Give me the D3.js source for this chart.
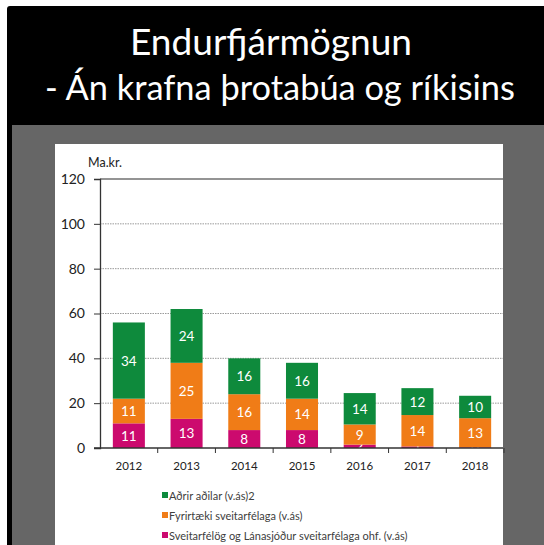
<!DOCTYPE html>
<html>
<head>
<meta charset="utf-8">
<script src="https://cdn.jsdelivr.net/npm/d3@7"></script>
<style>
  html, body { margin: 0; padding: 0; background: #fff; }
  svg { display: block; font-family: Lato, "Open Sans", sans-serif; }
</style>
</head>
<body>
<svg id="chart" width="544" height="545"></svg>
<script>
// gögn lesin af myndinni
const years = ["2012", "2013", "2014", "2015", "2016", "2017", "2018"];
const sveitarfelog = [11, 13, 8, 8, 1.5, 0.7, 0.3];   // neðst (bleikt)
const fyrirtaeki   = [11, 25, 16, 14, 9, 14, 13];     // miðja (appelsínugult)
const adrir        = [34, 24, 16, 16, 14, 12, 10];    // efst (grænt)
const seriesNames = [
  "Sveitarfélög og Lánasjóður sveitarfélaga ohf. (v.ás)",
  "Fyrirtæki sveitarfélaga (v.ás)",
  "Aðrir aðilar (v.ás)2"
];
const seriesColors = ["#cc0a6e", "#f07c17", "#0e8a3c"];
const yTicks = [0, 20, 40, 60, 80, 100, 120];

const svg = d3.select("#chart");
const W = 544, H = 545;

// 1) bakgrunnur: svartur kassi, grár rammi, hvítt spjald
svg.append("rect").attr("x", 7).attr("y", 6).attr("width", W).attr("height", H)
  .attr("rx", 3).attr("fill", "#000");
svg.append("rect").attr("x", 12).attr("y", 125).attr("width", W).attr("height", H)
  .attr("fill", "#666666");
svg.append("rect").attr("x", 55).attr("y", 144).attr("width", 448).attr("height", H)
  .attr("fill", "#fff");

// 2) titill - stærð aðlöguð að breidd
function fitText(txt, cx, y, targetW) {
  const t = svg.append("text")
    .attr("x", cx).attr("y", y)
    .attr("text-anchor", "middle")
    .attr("fill", "#fff")
    .attr("font-size", 40)
    .text(txt);
  const w = t.node().getComputedTextLength();
  t.attr("font-size", 40 * targetW / w);
}
fitText("Endurfjármögnun", 271, 55, 282);
fitText("- Án krafna þrotabúa og ríkisins", 280, 100, 470);

// 3) kvarðar
const x = d3.scaleBand().domain(years).range([100, 504])
  .paddingInner(0.445).paddingOuter(0.2225);
const y = d3.scaleLinear().domain([0, 120]).range([448, 179]);

svg.append("defs").append("clipPath").attr("id", "plotClip")
  .append("rect").attr("x", 100).attr("y", 170).attr("width", 403).attr("height", 278);

// 4) hnitalínur
svg.append("g").selectAll("line")
  .data(yTicks.filter(d => d > 0 && d < 120))
  .join("line")
    .attr("x1", 100).attr("x2", 503)
    .attr("y1", d => y(d)).attr("y2", d => y(d))
    .attr("stroke", "#9a9a9a").attr("stroke-width", 1)
    .attr("stroke-dasharray", "1.5,1");
svg.append("line")
  .attr("x1", 100).attr("x2", 503).attr("y1", y(120)).attr("y2", y(120))
  .attr("stroke", "#707070").attr("stroke-width", 1.5);

// 5) staflaðar súlur
const table = years.map((yr, i) => ({
  year: yr, s0: sveitarfelog[i], s1: fyrirtaeki[i], s2: adrir[i]
}));
const stack = d3.stack().keys(["s0", "s1", "s2"]);
const stacked = stack(table);

const plot = svg.append("g").attr("clip-path", "url(#plotClip)");
const layers = plot.selectAll("g.layer")
  .data(stacked)
  .join("g")
    .attr("class", "layer")
    .attr("fill", (d, i) => seriesColors[i]);

layers.selectAll("rect")
  .data(d => d)
  .join("rect")
    .attr("x", d => x(d.data.year))
    .attr("width", x.bandwidth())
    .attr("y", d => y(d[1]))
    .attr("height", d => y(d[0]) - y(d[1]));

layers.selectAll("text")
  .data(d => d)
  .join("text")
    .attr("x", d => x(d.data.year) + x.bandwidth() / 2)
    .attr("y", d => (y(d[0]) + y(d[1])) / 2)
    .attr("text-anchor", "middle")
    .attr("dominant-baseline", "central")
    .attr("fill", "#fff")
    .attr("font-size", 13.5)
    .text(d => d3.format(".0f")(d[1] - d[0]));

// 6) ásar
const yAxis = svg.append("g").attr("transform", "translate(100,0)")
  .call(d3.axisLeft(y).tickValues(yTicks).tickSize(6).tickPadding(9));
yAxis.select(".domain").attr("stroke", "#333").attr("stroke-width", 1.3);
yAxis.selectAll(".tick line").attr("stroke", "#333");
yAxis.selectAll(".tick text").attr("font-size", 14).attr("fill", "#222")
  .attr("font-family", "Lato, sans-serif");

const xAxis = svg.append("g").attr("transform", "translate(0,448)")
  .call(d3.axisBottom(x).tickSize(0).tickPadding(14));
xAxis.select(".domain").remove();
xAxis.selectAll(".tick text").attr("font-size", 11.5).attr("fill", "#222")
  .attr("font-family", "Lato, sans-serif");
svg.append("line").attr("x1", 94).attr("x2", 503).attr("y1", 448).attr("y2", 448)
  .attr("stroke", "#333").attr("stroke-width", 1.3);
// skil milli flokka
svg.append("g").selectAll("line")
  .data(years.slice(1).concat(["end"]))
  .join("line")
    .attr("x1", (d, i) => 100 + x.step() * (i + 1))
    .attr("x2", (d, i) => 100 + x.step() * (i + 1))
    .attr("y1", 448).attr("y2", 453)
    .attr("stroke", "#333");

svg.append("text").attr("x", 88).attr("y", 167)
  .attr("font-size", 12.5).attr("fill", "#222").text("Ma.kr.");

// 7) skýringar
const legendOrder = [2, 1, 0];
const legend = svg.append("g").selectAll("g")
  .data(legendOrder)
  .join("g")
    .attr("transform", (d, i) => `translate(162,${495 + i * 20})`);
legend.append("rect").attr("x", 0).attr("y", -3).attr("width", 6).attr("height", 6)
  .attr("fill", d => seriesColors[d]);
legend.append("text").attr("x", 7).attr("y", 0)
  .attr("dominant-baseline", "central")
  .attr("font-size", 11).attr("fill", "#404040")
  .text(d => seriesNames[d]);
</script>
</body>
</html>
